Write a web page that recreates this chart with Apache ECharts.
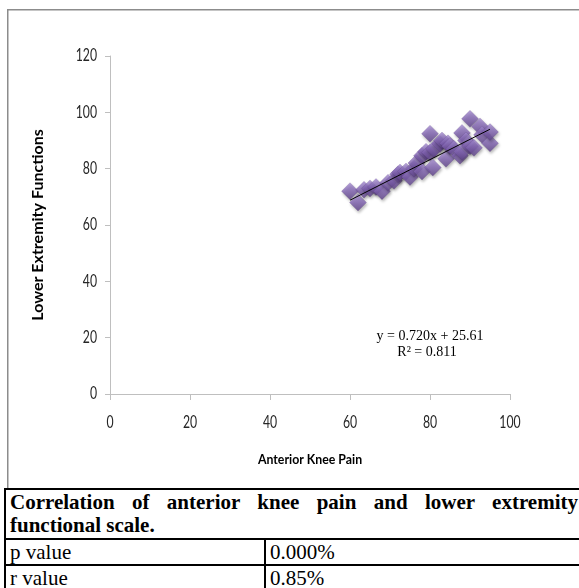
<!DOCTYPE html>
<html>
<head>
<meta charset="utf-8">
<script src="https://cdn.jsdelivr.net/npm/echarts@6/dist/echarts.min.js"></script>
<style>
  html, body { margin: 0; padding: 0; background: #fff; width: 579px; height: 588px; overflow: hidden; }
  #chart { position: absolute; left: 0; top: 0; width: 579px; height: 588px; }
  #tbl { position: absolute; left: 4px; top: 488px; width: 580px; border-collapse: collapse; table-layout: fixed;
         font-family: "Liberation Serif", "Times New Roman", serif; font-size: 21px; color: #000; background: #fff; }
  #tbl td { border: 2px solid #000; padding: 0 4px; line-height: 24px; vertical-align: top; overflow: hidden; white-space: normal; }
  #tbl td.hdr { font-weight: bold; text-align: justify; text-align-last: left; padding-top: 1px; padding-bottom: 1px; line-height: 23px; }
</style>
</head>
<body>
<div id="chart"></div>
<table id="tbl">
  <colgroup><col style="width:260px"><col></colgroup>
  <tr><td class="hdr" colspan="2" id="hdr"></td></tr>
  <tr><td id="r1a"></td><td id="r1b"></td></tr>
  <tr><td id="r2a"></td><td id="r2b"></td></tr>
</table>
<script>
// ---- data ----
var painX = [60, 62, 63.5, 65, 66.5, 68, 69.5, 71, 72, 72.5, 74, 75, 76, 76.6, 78, 78, 79, 80, 80, 80.7, 81, 82.5, 83, 84, 84.5, 85, 86, 87.5, 88, 88, 89, 90, 90, 91, 92.5, 93, 95, 95];
var functionY = [72, 68, 72.5, 73, 73.5, 72, 75, 75.7, 78, 78.6, 79, 77, 80, 82, 84.6, 79, 86, 92.4, 85.7, 80.4, 87, 88.8, 90, 83.5, 89, 88, 87, 84.6, 92.7, 86, 90, 97.7, 88, 87.4, 95, 92, 89, 93];
var trendX = [60, 95];
var slope = 0.720, intercept = 25.61;
var equationText = "y = 0.720x + 25.61";
var r2Text = "R\u00b2 = 0.811";
var xTickLabels = [0, 20, 40, 60, 80, 100];
var yTickLabels = [0, 20, 40, 60, 80, 100, 120];
var xTitle = "Anterior Knee Pain";
var yTitle = "Lower Extremity Functions";
var tableHeader = "Correlation of anterior knee pain and lower extremity functional scale.";
var tableRows = [["p value", "0.000%"], ["r value", "0.85%"]];

document.getElementById('hdr').textContent = tableHeader;
document.getElementById('r1a').textContent = tableRows[0][0];
document.getElementById('r1b').textContent = tableRows[0][1];
document.getElementById('r2a').textContent = tableRows[1][0];
document.getElementById('r2b').textContent = tableRows[1][1];

var pts = painX.map(function (x, i) { return [x, functionY[i]]; });
var trend = trendX.map(function (x) { return [x, +(slope * x + intercept).toFixed(3)]; });

var xMin = xTickLabels[0], xMax = xTickLabels[xTickLabels.length - 1], xInt = xTickLabels[1] - xTickLabels[0];
var yMin = yTickLabels[0], yMax = yTickLabels[yTickLabels.length - 1], yInt = yTickLabels[1] - yTickLabels[0];

var chart = echarts.init(document.getElementById('chart'), null, { renderer: 'canvas' });
var baseGraphic = [
  { id: 'frame', type: 'rect', left: 7, top: 9, z: -10, silent: true,
    shape: { width: 600, height: 490 },
    style: { fill: '#fff', stroke: '#8c8c8c', lineWidth: 1.5 } },
  { id: 'eq', type: 'text', x: 430, y: 336, z: 10,
    style: { text: equationText, font: '14px "Liberation Serif", serif', fill: '#000', textAlign: 'center', textVerticalAlign: 'middle' } },
  { id: 'r2', type: 'text', x: 427, y: 352, z: 10,
    style: { text: r2Text, font: '14px "Liberation Serif", serif', fill: '#000', textAlign: 'center', textVerticalAlign: 'middle' } },
  { id: 'xt', type: 'text', x: 310, y: 459, z: 10, scaleX: 0.88,
    style: { text: xTitle, font: 'bold 14px Lato, "Open Sans", sans-serif', fill: '#000', textAlign: 'center', textVerticalAlign: 'middle' } },
  { id: 'yt', type: 'text', x: 38, y: 225, z: 10, rotation: Math.PI / 2,
    style: { text: yTitle, font: 'bold 16px Lato, "Open Sans", sans-serif', fill: '#000', textAlign: 'center', textVerticalAlign: 'middle' } }
];
chart.setOption({
  animation: false,
  backgroundColor: '#fff',
  grid: { left: 110, right: 69, top: 56, bottom: 194 },
  xAxis: {
    type: 'value', min: xMin, max: xMax, interval: xInt,
    axisLine: { show: true, lineStyle: { color: '#bfbfbf', width: 1 } },
    axisTick: { show: true, length: 6, lineStyle: { color: '#bfbfbf' } },
    axisLabel: { show: false },
    splitLine: { show: false }
  },
  yAxis: {
    type: 'value', min: yMin, max: yMax, interval: yInt,
    axisLine: { show: true, lineStyle: { color: '#bfbfbf', width: 1 } },
    axisTick: { show: true, length: 5, lineStyle: { color: '#bfbfbf' } },
    axisLabel: { show: false },
    splitLine: { show: false }
  },
  series: [
    {
      type: 'scatter', data: pts, symbol: 'diamond', symbolSize: 17, z: 2,
      itemStyle: {
        color: new echarts.graphic.LinearGradient(0, 0, 0, 1, [
          { offset: 0, color: '#a58dd2' },
          { offset: 0.5, color: '#8163b2' },
          { offset: 1, color: '#5c4186' }
        ]),
        borderColor: 'rgba(70,45,110,0.35)', borderWidth: 0.6,
        shadowBlur: 3, shadowColor: 'rgba(0,0,0,0.35)', shadowOffsetX: 1, shadowOffsetY: 2
      }
    },
    {
      type: 'line', data: trend, symbol: 'none', z: 3,
      lineStyle: { color: '#000', width: 1 }
    }
  ],
  graphic: baseGraphic
});

// tick labels placed through the axis scales (condensed like the reference)
var labelGraphic = [];
yTickLabels.forEach(function (v, i) {
  var py = chart.convertToPixel({ yAxisIndex: 0 }, v);
  var px = chart.convertToPixel({ xAxisIndex: 0 }, xMin);
  labelGraphic.push({ id: 'yl' + i, type: 'text', x: px - 13, y: py, z: 10, scaleX: 0.72,
    style: { text: String(v), font: '17px Lato, "Open Sans", sans-serif', fill: '#262626', textAlign: 'right', textVerticalAlign: 'middle' } });
});
xTickLabels.forEach(function (v, i) {
  var px = chart.convertToPixel({ xAxisIndex: 0 }, v);
  var py = chart.convertToPixel({ yAxisIndex: 0 }, yMin);
  labelGraphic.push({ id: 'xl' + i, type: 'text', x: px, y: py + 29, z: 10, scaleX: 0.72,
    style: { text: String(v), font: '17px Lato, "Open Sans", sans-serif', fill: '#262626', textAlign: 'center', textVerticalAlign: 'middle' } });
});
chart.setOption({ graphic: labelGraphic });
</script>
</body>
</html>
